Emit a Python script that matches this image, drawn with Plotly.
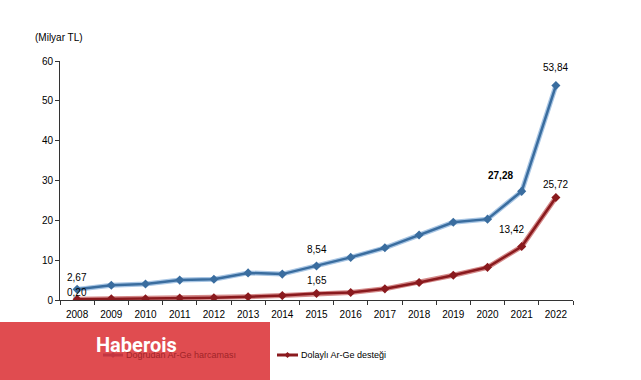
import plotly.graph_objects as go

years = [str(y) for y in range(2008, 2023)]
dogrudan = [2.67, 3.7, 4.0, 5.0, 5.2, 6.8, 6.5, 8.54, 10.7, 13.1, 16.3, 19.5, 20.3, 27.28, 53.84]
dolayli = [0.20, 0.3, 0.3, 0.5, 0.55, 0.8, 1.1, 1.65, 1.9, 2.8, 4.4, 6.2, 8.2, 13.42, 25.72]
y_ticks = [0, 10, 20, 30, 40, 50, 60]
series_names = ["Doğrudan Ar-Ge harcaması", "Dolaylı Ar-Ge desteği"]

xs = list(range(len(years)))
boundaries = [i - 0.5 for i in range(len(years) + 1)]

blue = "#3a6d9f"
red = "#8a1a1e"

W, H = 641, 380
ML, MR, MT, MB = 60, 68, 61, 80
PW, PH = W - ML - MR, H - MT - MB


def px(x):
    return (x - ML) / PW


def py(y):
    return (H - MB - y) / PH


fig = go.Figure()
fig.add_trace(go.Scatter(x=xs, y=dogrudan, mode="lines", line=dict(color="#a9c6e4", width=5),
                         showlegend=False, hoverinfo="skip"))
fig.add_trace(go.Scatter(x=xs, y=dogrudan, mode="lines+markers", name=series_names[0], showlegend=False,
                         line=dict(color=blue, width=2.5), marker=dict(symbol="diamond", size=7, color=blue)))
fig.add_trace(go.Scatter(x=xs, y=dolayli, mode="lines", line=dict(color="#d48a8a", width=5),
                         showlegend=False, hoverinfo="skip"))
fig.add_trace(go.Scatter(x=xs, y=dolayli, mode="lines+markers", name=series_names[1], showlegend=False,
                         line=dict(color=red, width=2.5), marker=dict(symbol="diamond", size=7, color=red)))

lab_font = dict(family="Liberation Sans, Arial", size=10, color="black")
labels = [
    (0, dogrudan, "2,67", 0, 12, False),
    (0, dolayli, "0,20", 0, 7, False),
    (7, dogrudan, "8,54", 0, 16, False),
    (7, dolayli, "1,65", 0, 13, False),
    (13, dogrudan, "27,28", -21, 16, True),
    (13, dolayli, "13,42", -10, 17, False),
    (14, dogrudan, "53,84", 0, 18, False),
    (14, dolayli, "25,72", 0, 13, False),
]
for i, arr, txt, dx, dy, bold in labels:
    fig.add_annotation(x=xs[i], y=arr[i], text=("<b>%s</b>" % txt) if bold else txt,
                       showarrow=False, xshift=dx, yshift=dy, font=lab_font)

fig.add_annotation(xref="paper", yref="paper", x=px(59), y=py(38), xanchor="center", yanchor="middle",
                   text="(Milyar TL)", showarrow=False, font=dict(family="Liberation Sans, Arial", size=10, color="black"))

# manual legend
def legend_item(x0, x1, ytop, color, text, tcolor):
    fig.add_shape(type="line", xref="paper", yref="paper", x0=px(x0), x1=px(x1), y0=py(ytop), y1=py(ytop),
                  line=dict(color=color, width=3), layer="above")
    cx = (x0 + x1) / 2
    fig.add_shape(type="path", xref="paper", yref="paper",
                  path="M %f %f L %f %f L %f %f L %f %f Z" % (px(cx - 3), py(ytop), px(cx), py(ytop - 3),
                                                               px(cx + 3), py(ytop), px(cx), py(ytop + 3)),
                  fillcolor=color, line=dict(width=0), layer="above")
    fig.add_annotation(xref="paper", yref="paper", x=px(x1 + 1), y=py(ytop), xanchor="left", yanchor="middle",
                       text=text, showarrow=False, font=dict(family="Liberation Sans, Arial", size=9, color=tcolor))

legend_item(103, 123, 355, blue, series_names[0], "#a02428")
legend_item(277, 298, 355, red, series_names[1], "black")

# watermark banner
fig.add_shape(type="rect", xref="paper", yref="paper", x0=px(0), x1=px(270), y0=py(380), y1=py(322),
              fillcolor="#db2d31", opacity=0.85, line=dict(width=0), layer="above")
fig.add_annotation(xref="paper", yref="paper", x=px(136), y=py(345), text="<b>Haberois</b>", showarrow=False,
                   xanchor="center", yanchor="middle",
                   font=dict(family="Roboto, Liberation Sans", size=20, color="white"))

fig.update_layout(
    width=W, height=H,
    margin=dict(l=ML, r=MR, t=MT, b=MB, autoexpand=False),
    paper_bgcolor="white", plot_bgcolor="white",
    font=dict(family="Liberation Sans, Arial", size=10, color="black"),
    showlegend=False,
    xaxis=dict(range=[-0.5, len(years) - 0.5], tickvals=xs, ticktext=years, showline=True,
               linecolor="#333", linewidth=1, ticks="", showgrid=False, zeroline=False,
               ticklabelstandoff=5,
               minor=dict(tickvals=boundaries, ticks="outside", ticklen=4, tickcolor="#333", showgrid=False)),
    yaxis=dict(range=[0, 60], tickvals=y_ticks, showline=True, linecolor="#333", linewidth=1,
               ticks="outside", ticklen=4, tickcolor="#333", showgrid=False, zeroline=False),
)

fig.write_html("out.html", config={"displayModeBar": False},
               post_script="document.body.style.margin='0';document.body.style.overflow='hidden';")
